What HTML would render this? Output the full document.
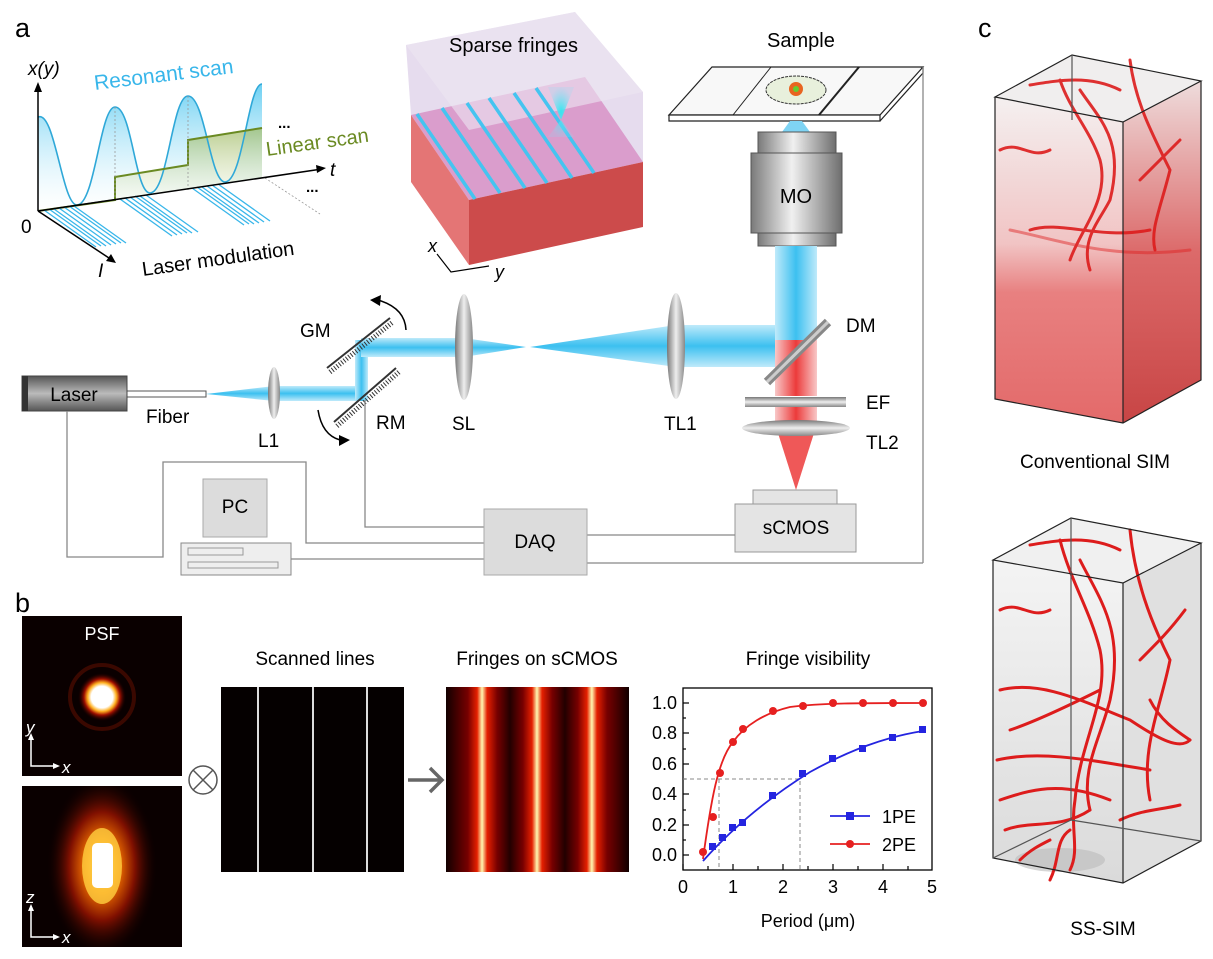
<!DOCTYPE html>
<html><head><meta charset="utf-8"><style>
body{margin:0;background:#fff;}
svg{display:block;font-family:"Liberation Sans",Arial,sans-serif;}
</style></head><body>
<svg width="1213" height="959" viewBox="0 0 1213 959" xmlns="http://www.w3.org/2000/svg">
<defs>
<linearGradient id="beam" x1="0" x2="0" y1="0" y2="1"><stop offset="0" stop-color="#bfeafa"/><stop offset="0.5" stop-color="#3cc0f0"/><stop offset="1" stop-color="#bfeafa"/></linearGradient>
<linearGradient id="beamv" x1="0" x2="1"><stop offset="0" stop-color="#bfeafa"/><stop offset="0.5" stop-color="#3cc0f0"/><stop offset="1" stop-color="#bfeafa"/></linearGradient>
<linearGradient id="redh" x1="0" x2="1"><stop offset="0" stop-color="#f8c8c8"/><stop offset="0.5" stop-color="#ec3b3b"/><stop offset="1" stop-color="#f8c8c8"/></linearGradient>
<linearGradient id="wave" x1="0" x2="0" y1="0" y2="1"><stop offset="0" stop-color="#3cc0ee"/><stop offset="1" stop-color="#ffffff" stop-opacity="0.3"/></linearGradient>
<linearGradient id="grn" x1="0" x2="0" y1="0" y2="1"><stop offset="0" stop-color="#9cb860" stop-opacity="0.7"/><stop offset="1" stop-color="#eef3dc" stop-opacity="0.3"/></linearGradient>
<linearGradient id="cred" x1="0" x2="0" y1="0" y2="1"><stop offset="0" stop-color="#f4f0f0"/><stop offset="0.45" stop-color="#f1c4c4"/><stop offset="0.6" stop-color="#e88080"/><stop offset="1" stop-color="#e36a6a"/></linearGradient>
<linearGradient id="credr" x1="0" x2="0" y1="0" y2="1"><stop offset="0" stop-color="#eedcdc"/><stop offset="0.5" stop-color="#dc6a6a"/><stop offset="1" stop-color="#c84545"/></linearGradient>
<linearGradient id="cgrey" x1="0" x2="0" y1="0" y2="1"><stop offset="0" stop-color="#f4f4f4"/><stop offset="1" stop-color="#dadada"/></linearGradient>
<linearGradient id="mo" x1="0" x2="1"><stop offset="0" stop-color="#7a7a7a"/><stop offset="0.45" stop-color="#f0f0f0"/><stop offset="1" stop-color="#6e6e6e"/></linearGradient>
<linearGradient id="lens" x1="0" x2="1"><stop offset="0" stop-color="#777"/><stop offset="0.5" stop-color="#eee"/><stop offset="1" stop-color="#888"/></linearGradient>
<linearGradient id="lensh" x1="0" x2="0" y1="0" y2="1"><stop offset="0" stop-color="#777"/><stop offset="0.5" stop-color="#eee"/><stop offset="1" stop-color="#888"/></linearGradient>
<linearGradient id="laser" x1="0" x2="0" y1="0" y2="1"><stop offset="0" stop-color="#555"/><stop offset="0.5" stop-color="#bbb"/><stop offset="1" stop-color="#555"/></linearGradient>
<linearGradient id="fr" x1="0" x2="1">
<stop offset="0" stop-color="#100"/><stop offset="0.12" stop-color="#700"/><stop offset="0.17" stop-color="#e52000"/><stop offset="0.197" stop-color="#fff8b0"/><stop offset="0.225" stop-color="#e52000"/><stop offset="0.28" stop-color="#700"/><stop offset="0.35" stop-color="#200"/>
<stop offset="0.42" stop-color="#700"/><stop offset="0.47" stop-color="#e52000"/><stop offset="0.497" stop-color="#fff8b0"/><stop offset="0.525" stop-color="#e52000"/><stop offset="0.58" stop-color="#700"/><stop offset="0.65" stop-color="#200"/>
<stop offset="0.72" stop-color="#700"/><stop offset="0.77" stop-color="#e52000"/><stop offset="0.797" stop-color="#fff8b0"/><stop offset="0.825" stop-color="#e52000"/><stop offset="0.88" stop-color="#700"/><stop offset="1" stop-color="#100"/></linearGradient>
<radialGradient id="psf"><stop offset="0" stop-color="#fff"/><stop offset="0.45" stop-color="#fff"/><stop offset="0.6" stop-color="#ffb020"/><stop offset="0.75" stop-color="#a01000"/><stop offset="1" stop-color="#200" stop-opacity="0"/></radialGradient>
<radialGradient id="psfz" cx="0.5" cy="0.5" r="0.5"><stop offset="0" stop-color="#ffe070"/><stop offset="0.3" stop-color="#f07000"/><stop offset="0.6" stop-color="#801000"/><stop offset="1" stop-color="#100" stop-opacity="0"/></radialGradient>
<radialGradient id="cone"><stop offset="0" stop-color="#30e8f0"/><stop offset="1" stop-color="#80e0f8" stop-opacity="0.2"/></radialGradient>
<clipPath id="c1"><rect x="22" y="616" width="160" height="160"/></clipPath>
<clipPath id="c2"><rect x="22" y="786" width="160" height="161"/></clipPath>
</defs>

<!-- labels -->
<text x="15" y="37" font-size="27">a</text>
<text x="15" y="612" font-size="27">b</text>
<text x="978" y="37" font-size="27">c</text>

<!-- inset -->
<path d="M38,117 C55,110 62,205 77,205 C95,205 100,107 115,107 C132,107 135,193 150,193 C168,193 172,96 188,96 C205,96 210,182 225,182 C243,182 248,84 262,84 L262,178 L38,211Z" fill="url(#wave)" opacity="0.75"/>
<path d="M115,200 L115,177 L188,165 L188,140 L262,128 L262,178 L115,200Z" fill="url(#grn)"/>
<path d="M38,117 C55,110 62,205 77,205 C95,205 100,107 115,107 C132,107 135,193 150,193 C168,193 172,96 188,96 C205,96 210,182 225,182 C243,182 248,84 262,84" stroke="#2fa8d8" stroke-width="1.6" fill="none"/>
<path d="M38,211 L115,200 L115,177 L188,165 L188,140 L262,128" stroke="#6a8a22" stroke-width="2" fill="none"/>
<g stroke="#38b6ea" stroke-width="1.3">
<line x1="44" y1="210" x2="96" y2="247"/><line x1="49" y1="209" x2="101" y2="246"/><line x1="54" y1="209" x2="106" y2="246"/><line x1="59" y1="208" x2="111" y2="245"/><line x1="64" y1="207" x2="116" y2="244"/><line x1="69" y1="206" x2="121" y2="243"/><line x1="74" y1="206" x2="126" y2="243"/>
<line x1="120" y1="199" x2="172" y2="236"/><line x1="125" y1="198" x2="177" y2="235"/><line x1="130" y1="197" x2="182" y2="234"/><line x1="135" y1="196" x2="187" y2="233"/><line x1="140" y1="196" x2="192" y2="233"/><line x1="146" y1="195" x2="198" y2="232"/>
<line x1="192" y1="188" x2="244" y2="225"/><line x1="197" y1="187" x2="249" y2="224"/><line x1="202" y1="187" x2="254" y2="224"/><line x1="207" y1="186" x2="259" y2="223"/><line x1="212" y1="185" x2="264" y2="222"/><line x1="218" y1="184" x2="270" y2="221"/>
</g>
<g stroke="#999" stroke-width="0.8" stroke-dasharray="2,2"><line x1="265" y1="178" x2="320" y2="214"/><line x1="115" y1="107" x2="115" y2="200"/><line x1="188" y1="96" x2="188" y2="190"/></g>
<g stroke="#000" stroke-width="1.5" fill="none">
<line x1="38" y1="211" x2="38" y2="88"/><line x1="38" y1="211" x2="322" y2="169"/><line x1="38" y1="211" x2="112" y2="260"/>
</g>
<path d="M38,82 L34,92 L42,92Z M326,168 L316,165 L317,173Z M116,263 L106,261 L111,254Z" fill="#000"/>
<text x="28" y="75" font-size="19" font-style="italic">x(y)</text>
<text x="95" y="90" font-size="21" fill="#38b6ea" transform="rotate(-7 95 90)">Resonant scan</text>
<text x="267" y="156" font-size="20" fill="#6a8a22" transform="rotate(-8 267 156)">Linear scan</text>
<text x="278" y="128" font-size="15" font-weight="bold">...</text>
<text x="306" y="192" font-size="15" font-weight="bold">...</text>
<text x="330" y="176" font-size="19" font-style="italic">t</text>
<text x="21" y="233" font-size="19">0</text>
<text x="98" y="277" font-size="19" font-style="italic">I</text>
<text x="143" y="276" font-size="20" transform="rotate(-8 143 276)">Laser modulation</text>

<!-- cube -->
<polygon points="406,45 575,12 643,92 643,162 469,200 411,115" fill="#e6dcee"/>
<polygon points="411,115 469,200 643,162 585,77" fill="#d896c8" opacity="0.9"/>
<polygon points="411,115 469,200 469,265 411,182" fill="#e47575"/>
<polygon points="469,200 643,162 643,227 469,265" fill="#cc4b4b"/>
<polygon points="406,45 575,12 643,92 469,130" fill="#ece6f2" opacity="0.6"/>
<g stroke="#45c4f0" stroke-width="3.5"><line x1="417" y1="114" x2="475" y2="199"/><line x1="442" y1="108" x2="500" y2="193"/><line x1="467" y1="103" x2="525" y2="188"/><line x1="489" y1="98" x2="547" y2="183"/><line x1="514" y1="93" x2="572" y2="178"/><line x1="536" y1="88" x2="594" y2="173"/></g>
<path d="M548,87 L574,87 L561,120 L574,137 L548,137 L561,120Z" fill="url(#cone)"/>
<text x="449" y="52" font-size="20">Sparse fringes</text>
<text x="428" y="252" font-size="18" font-style="italic">x</text><text x="495" y="278" font-size="18" font-style="italic">y</text>
<path d="M437,254 L451,272 L489,266" stroke="#000" fill="none" stroke-width="1.2"/>

<!-- sample -->
<text x="767" y="47" font-size="20">Sample</text>
<path d="M712,67 L923,67 L880,115 L669,115Z" fill="#f8f8f8" stroke="#222" stroke-width="1.2"/>
<path d="M669,115 L880,115 L880,121 L669,121Z" fill="#fff" stroke="#222" stroke-width="1.2"/>
<path d="M880,121 L923,73 L923,67" fill="none" stroke="#222" stroke-width="1.2"/>
<line x1="733" y1="115" x2="771" y2="67" stroke="#222"/><line x1="819" y1="115" x2="859" y2="67" stroke="#222" stroke-width="2"/>
<ellipse cx="796" cy="90" rx="30" ry="14" fill="#e8f0dc" stroke="#333" stroke-dasharray="3,1"/>
<circle cx="796" cy="89" r="7" fill="#e86420"/><circle cx="796" cy="89" r="3" fill="#6c3"/>
<polygon points="790,121 802,121 810,132 782,132" fill="#7fd4f4"/>
<line x1="923" y1="67" x2="923" y2="563" stroke="#888" stroke-width="1.3"/>

<!-- MO -->
<rect x="758" y="132" width="78" height="21" fill="url(#mo)" stroke="#555"/>
<rect x="751" y="153" width="91" height="80" fill="url(#mo)" stroke="#555"/>
<rect x="758" y="233" width="78" height="13" fill="url(#mo)" stroke="#555"/>
<text x="796" y="203" font-size="20" text-anchor="middle">MO</text>
<rect x="775" y="246" width="42" height="100" fill="url(#beamv)"/>
<polygon points="676,325 775,325 775,367 676,367" fill="url(#beam)"/>
<rect x="775" y="325" width="42" height="30" fill="url(#beamv)"/>
<rect x="775" y="340" width="42" height="56" fill="url(#redh)"/>
<rect x="775" y="407" width="42" height="20" fill="url(#redh)"/>
<line x1="767" y1="382" x2="828" y2="322" stroke="#888" stroke-width="9"/>
<line x1="767" y1="382" x2="828" y2="322" stroke="#ccc" stroke-width="3"/>
<text x="846" y="332" font-size="19">DM</text>
<rect x="745" y="397" width="101" height="10" fill="url(#lensh)"/>
<text x="866" y="409" font-size="19">EF</text>
<polygon points="777,430 815,430 796,490" fill="#ec3b3b" opacity="0.85"/>
<ellipse cx="796" cy="428" rx="54" ry="8" fill="url(#lensh)"/>
<text x="866" y="449" font-size="19">TL2</text>
<rect x="753" y="490" width="84" height="14" fill="#e4e4e4" stroke="#999"/>
<rect x="735" y="504" width="121" height="48" fill="#e4e4e4" stroke="#999"/>
<text x="796" y="534" font-size="19" text-anchor="middle">sCMOS</text>

<!-- beams -->
<rect x="127" y="391" width="79" height="6" fill="#fff" stroke="#555"/>
<rect x="22" y="376" width="105" height="35" fill="url(#laser)" stroke="#444"/>
<rect x="22" y="376" width="6" height="35" fill="#333"/>
<text x="74" y="401" font-size="19" text-anchor="middle">Laser</text>
<polygon points="206,394 274,386 274,401" fill="url(#beam)"/>
<rect x="274" y="386" width="87" height="15" fill="url(#beam)"/>
<rect x="355" y="340" width="13" height="61" fill="url(#beamv)"/>
<rect x="361" y="338" width="103" height="19" fill="url(#beam)"/>
<polygon points="464,338 526,347 464,357" fill="url(#beam)"/>
<polygon points="530,347 676,325 676,367" fill="url(#beam)"/>
<ellipse cx="274" cy="393" rx="6" ry="26" fill="url(#lens)"/>
<ellipse cx="464" cy="347" rx="9" ry="53" fill="url(#lens)"/>
<ellipse cx="676" cy="346" rx="9" ry="53" fill="url(#lens)"/>
<g stroke="#333"><line x1="327" y1="368" x2="390" y2="318" stroke-width="2"/><line x1="330" y1="372" x2="393" y2="322" stroke-width="5" stroke-dasharray="1,2"/>
<line x1="334" y1="422" x2="396" y2="368" stroke-width="2"/><line x1="337" y1="426" x2="399" y2="372" stroke-width="5" stroke-dasharray="1,2"/></g>
<path d="M378,300 Q405,308 406,330" stroke="#000" fill="none" stroke-width="1.5"/>
<path d="M370,300 L381,295 L380,306Z" fill="#000"/>
<path d="M318,410 Q322,435 340,440" stroke="#000" fill="none" stroke-width="1.5"/>
<path d="M350,440 L339,435 L339,446Z" fill="#000"/>
<text x="146" y="423" font-size="19">Fiber</text>
<text x="258" y="447" font-size="19">L1</text>
<text x="300" y="337" font-size="19">GM</text>
<text x="376" y="429" font-size="19">RM</text>
<text x="452" y="430" font-size="19">SL</text>
<text x="664" y="430" font-size="19">TL1</text>

<!-- wiring -->
<g stroke="#888" fill="none" stroke-width="1.3">
<polyline points="67,411 67,557 163,557 163,462 306,462 306,543 484,543"/>
<polyline points="365,400 365,527 484,527"/>
<line x1="291" y1="559" x2="484" y2="559"/>
<line x1="587" y1="535" x2="735" y2="535"/>
<line x1="587" y1="563" x2="923" y2="563"/>
</g>
<rect x="203" y="479" width="64" height="58" fill="#dcdcdc" stroke="#aaa"/>
<text x="235" y="513" font-size="19" text-anchor="middle">PC</text>
<rect x="181" y="543" width="110" height="32" fill="#eee" stroke="#888"/>
<rect x="188" y="548" width="55" height="7" fill="none" stroke="#999"/><rect x="188" y="562" width="90" height="6" fill="none" stroke="#999"/>
<rect x="484" y="509" width="103" height="66" fill="#dcdcdc" stroke="#aaa"/>
<text x="535" y="548" font-size="19" text-anchor="middle">DAQ</text>

<!-- panel b -->
<rect x="22" y="616" width="160" height="160" fill="#0a0000"/>
<g clip-path="url(#c1)"><circle cx="102" cy="697" r="32" fill="none" stroke="#3a0800" stroke-width="4"/><circle cx="102" cy="697" r="24" fill="url(#psf)"/></g>
<text x="102" y="640" font-size="18" fill="#fff" text-anchor="middle">PSF</text>
<text x="26" y="733" font-size="17" fill="#fff" font-style="italic">y</text>
<text x="62" y="773" font-size="17" fill="#fff" font-style="italic">x</text>
<path d="M31,737 L31,766 L56,766" stroke="#fff" fill="none" stroke-width="1.5"/>
<path d="M31,733 L28,740 L34,740Z M60,766 L53,763 L53,769Z" fill="#fff"/>
<rect x="22" y="786" width="160" height="161" fill="#0a0000"/>
<g clip-path="url(#c2)"><ellipse cx="102" cy="866" rx="55" ry="90" fill="url(#psfz)"/><ellipse cx="102" cy="866" rx="20" ry="38" fill="#ffd040" opacity="0.8"/></g>
<rect x="92" y="843" width="21" height="45" rx="5" fill="#fff"/>
<text x="26" y="903" font-size="17" fill="#fff" font-style="italic">z</text>
<text x="62" y="943" font-size="17" fill="#fff" font-style="italic">x</text>
<path d="M31,908 L31,937 L56,937" stroke="#fff" fill="none" stroke-width="1.5"/>
<path d="M31,904 L28,911 L34,911Z M60,937 L53,934 L53,940Z" fill="#fff"/>
<circle cx="203" cy="780" r="14" fill="none" stroke="#555" stroke-width="1.5"/>
<path d="M193,770 L213,790 M213,770 L193,790" stroke="#555" stroke-width="1.5"/>
<text x="315" y="665" font-size="19" text-anchor="middle">Scanned lines</text>
<rect x="221" y="687" width="183" height="185" fill="#050000"/>
<g stroke="#ddd" stroke-width="2"><line x1="258" y1="687" x2="258" y2="872"/><line x1="313" y1="687" x2="313" y2="872"/><line x1="367" y1="687" x2="367" y2="872"/></g>
<path d="M408,780 L441,780 M430,768 L442,780 L430,792" stroke="#666" stroke-width="3.5" fill="none"/>
<text x="537" y="665" font-size="19" text-anchor="middle">Fringes on sCMOS</text>
<rect x="446" y="687" width="183" height="185" fill="url(#fr)"/>
<text x="808" y="665" font-size="19" text-anchor="middle">Fringe visibility</text>

<!-- chart -->
<g font-size="18">
<rect x="683" y="688" width="249" height="182" fill="none" stroke="#000" stroke-width="1.3"/>
<g stroke="#000" stroke-width="1.2">
<line x1="683" y1="870" x2="683" y2="864"/><line x1="733" y1="870" x2="733" y2="864"/><line x1="783" y1="870" x2="783" y2="864"/><line x1="833" y1="870" x2="833" y2="864"/><line x1="883" y1="870" x2="883" y2="864"/>
<line x1="708" y1="870" x2="708" y2="866"/><line x1="758" y1="870" x2="758" y2="866"/><line x1="808" y1="870" x2="808" y2="866"/><line x1="858" y1="870" x2="858" y2="866"/><line x1="908" y1="870" x2="908" y2="866"/>
<line x1="683" y1="855" x2="689" y2="855"/><line x1="683" y1="825" x2="689" y2="825"/><line x1="683" y1="794" x2="689" y2="794"/><line x1="683" y1="764" x2="689" y2="764"/><line x1="683" y1="733" x2="689" y2="733"/><line x1="683" y1="703" x2="689" y2="703"/>
<line x1="683" y1="840" x2="686" y2="840"/><line x1="683" y1="810" x2="686" y2="810"/><line x1="683" y1="779" x2="686" y2="779"/><line x1="683" y1="749" x2="686" y2="749"/><line x1="683" y1="718" x2="686" y2="718"/>
</g>
<g text-anchor="middle"><text x="683" y="893">0</text><text x="733" y="893">1</text><text x="783" y="893">2</text><text x="833" y="893">3</text><text x="883" y="893">4</text><text x="932" y="893">5</text></g>
<g text-anchor="end"><text x="677" y="861">0.0</text><text x="677" y="831">0.2</text><text x="677" y="800">0.4</text><text x="677" y="770">0.6</text><text x="677" y="739">0.8</text><text x="677" y="709">1.0</text></g>
<text x="808" y="927" text-anchor="middle">Period (μm)</text>
<g stroke="#888" stroke-dasharray="4,3" fill="none" stroke-width="1"><polyline points="683,779 800,779 800,870"/><line x1="719" y1="779" x2="719" y2="870"/></g>
<path d="M703,859 C711,800 718,760 733,742 C745,725 765,713 790,707 C820,703 860,703 923,703" stroke="#e62020" stroke-width="1.8" fill="none"/>
<path d="M703,861 C735,825 770,797 810,772 C850,750 885,737 923,731" stroke="#2424e0" stroke-width="1.8" fill="none"/>
<g fill="#e62020"><circle cx="703" cy="852" r="4"/><circle cx="713" cy="817" r="4"/><circle cx="720" cy="773" r="4"/><circle cx="733" cy="742" r="4"/><circle cx="743" cy="729" r="4"/><circle cx="773" cy="711" r="4"/><circle cx="803" cy="706" r="4"/><circle cx="833" cy="703" r="4"/><circle cx="863" cy="703" r="4"/><circle cx="893" cy="703" r="4"/><circle cx="923" cy="703" r="4"/></g>
<g fill="#2424e0"><rect x="709" y="843" width="7" height="7"/><rect x="719" y="834" width="7" height="7"/><rect x="729" y="824" width="7" height="7"/><rect x="739" y="819" width="7" height="7"/><rect x="769" y="792" width="7" height="7"/><rect x="799" y="770" width="7" height="7"/><rect x="829" y="755" width="7" height="7"/><rect x="859" y="745" width="7" height="7"/><rect x="889" y="734" width="7" height="7"/><rect x="919" y="726" width="7" height="7"/></g>
<line x1="830" y1="816" x2="870" y2="816" stroke="#2424e0" stroke-width="1.8"/><rect x="846" y="812" width="8" height="8" fill="#2424e0"/>
<text x="882" y="823">1PE</text>
<line x1="830" y1="844" x2="870" y2="844" stroke="#e62020" stroke-width="1.8"/><circle cx="850" cy="844" r="4" fill="#e62020"/>
<text x="882" y="851">2PE</text>
</g>

<!-- panel c upper -->
<polygon points="995,97 1072,55 1201,81 1123,122" fill="#f0eeee"/>
<polygon points="995,97 1123,122 1123,423 995,399" fill="url(#cred)"/>
<polygon points="1123,122 1201,81 1201,380 1123,423" fill="url(#credr)"/>
<g stroke="#dd1c1c" stroke-width="3" fill="none" stroke-linecap="round" opacity="0.9">
<path d="M1060,80 C1070,110 1090,130 1100,160 C1110,200 1080,230 1070,260"/>
<path d="M1130,60 C1135,100 1150,130 1170,170 C1160,210 1150,230 1155,250"/>
<path d="M1000,150 C1020,140 1030,160 1050,150"/>
<path d="M1080,90 C1100,120 1125,140 1110,200 C1100,220 1080,240 1090,270"/>
<path d="M1030,230 C1060,220 1100,240 1150,230"/>
<path d="M1030,85 C1060,80 1090,75 1120,90"/>
<path d="M1140,180 C1160,160 1170,150 1180,140"/>
<path d="M1010,230 C1060,240 1110,260 1190,250" opacity="0.5"/>
</g>
<g stroke="#222" stroke-width="1.2" fill="none">
<polygon points="995,97 1072,55 1201,81 1123,122"/>
<polyline points="995,97 995,399 1123,423 1201,380 1201,81"/><line x1="1123" y1="122" x2="1123" y2="423"/>
<line x1="1072" y1="55" x2="1072" y2="120" stroke="#555"/>
</g>
<text x="1095" y="468" font-size="19" text-anchor="middle">Conventional SIM</text>

<!-- panel c lower -->
<polygon points="993,560 1071,518 1201,543 1123,583" fill="#f0f0f0"/>
<polygon points="993,560 1123,583 1123,883 993,858" fill="url(#cgrey)"/>
<polygon points="1123,583 1201,543 1201,841 1123,883" fill="#e0e0e0"/>
<ellipse cx="1060" cy="860" rx="45" ry="12" fill="#bbb" opacity="0.6"/>
<g stroke="#dd1c1c" stroke-width="3" fill="none" stroke-linecap="round">
<path d="M1060,540 C1070,580 1090,610 1100,650 C1110,700 1080,740 1075,800 C1070,830 1080,850 1070,870"/>
<path d="M1130,530 C1135,580 1150,620 1170,660 C1160,710 1140,750 1150,800"/>
<path d="M1000,610 C1020,600 1030,620 1050,610"/>
<path d="M1080,560 C1100,600 1125,630 1110,700 C1100,740 1080,770 1090,810"/>
<path d="M1000,690 C1040,680 1080,700 1130,720 C1160,740 1180,750 1190,740"/>
<path d="M1010,730 C1040,720 1080,700 1100,690"/>
<path d="M997,760 C1040,750 1090,760 1150,770"/>
<path d="M1000,800 C1030,790 1060,780 1110,800"/>
<path d="M1005,830 C1030,820 1060,830 1090,810"/>
<path d="M1030,545 C1060,540 1090,535 1120,550"/>
<path d="M1140,660 C1160,640 1170,630 1185,610"/>
<path d="M1150,700 C1160,720 1175,730 1190,740"/>
<path d="M1050,880 C1060,860 1055,840 1070,830"/>
<path d="M1020,860 C1030,850 1040,845 1050,840"/>
<path d="M1120,820 C1140,810 1160,810 1180,805"/>
</g>
<g stroke="#222" stroke-width="1.2" fill="none">
<polygon points="993,560 1071,518 1201,543 1123,583"/>
<polyline points="993,560 993,858 1123,883 1201,841 1201,543"/><line x1="1123" y1="583" x2="1123" y2="883"/>
<line x1="1071" y1="518" x2="1071" y2="820" stroke="#555"/><line x1="1071" y1="820" x2="993" y2="858" stroke="#555"/><line x1="1071" y1="820" x2="1201" y2="841" stroke="#555"/>
</g>
<text x="1103" y="935" font-size="19" text-anchor="middle">SS-SIM</text>
</svg>
</body></html>
